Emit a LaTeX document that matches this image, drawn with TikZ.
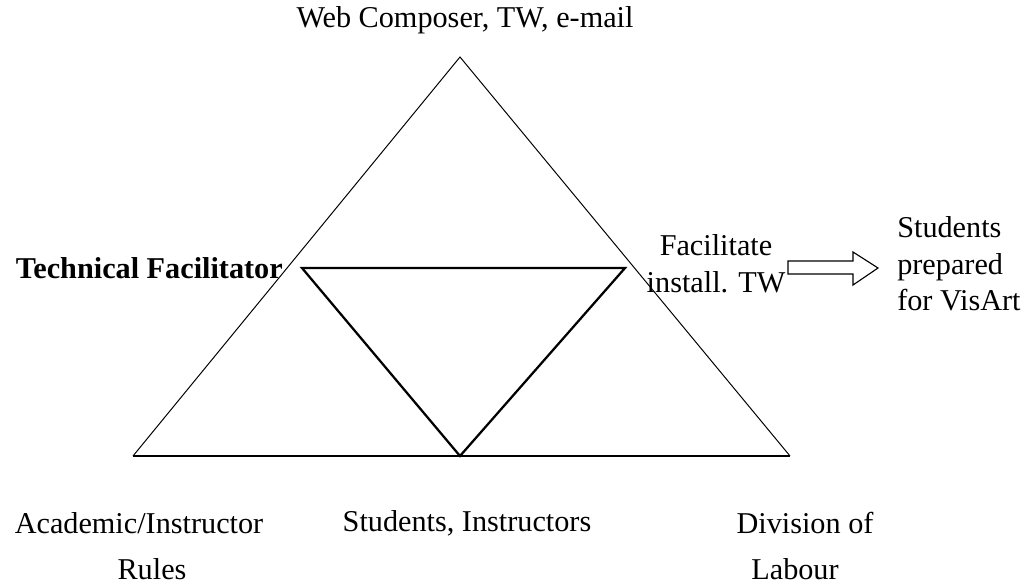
\documentclass[tikz,border=0pt]{standalone}
\usepackage{fontspec}
\setmainfont{Liberation Serif}
\usetikzlibrary{positioning,calc}
\tikzset{
  lbl/.style={font=\fontsize{21.5}{26}\selectfont,inner sep=0pt,align=center},
  thinside/.style={line width=0.7pt},
  thickside/.style={line width=1.6pt}
}

\begin{document}
\begin{tikzpicture}[x=0.025cm,y=-0.025cm]
        \useasboundingbox(0,0)rectangle(1024,585);
        % outer triangle
        \coordinate(top)at(460,57);
        \coordinate(bl)at(133,456);
        \coordinate(br)at(790,456);
        % inner triangle
        \coordinate(ml)at(302,268);
        \coordinate(mr)at(625,268);
        \coordinate(mb)at(460,456);
        \draw[thinside](bl)--(top)--(br);
        \draw[line width=1.2pt](bl)--(br);
        \draw[thickside,line join=miter](ml)--(mr)--(mb)--cycle;
        \node[lbl](tool)at(465,20){Web Composer, TW, e-mail};
        \node[lbl,anchor=east,font=\fontsize{21.5}{26}\selectfont\bfseries](tech)at(283,268){Technical Facilitator};
        \node[lbl](fac)at(716,264){Facilitate\\install. TW};
        \node[lbl,anchor=west,align=left](out)at(897,264){Students\\prepared\\for VisArt};
        \node[lbl](acad)at(139,523){Academic/Instructor};
        \node[lbl](rules)at(152,569){Rules};
        \node[lbl](subj)at(467,523){Students, Instructors};
        \node[lbl](div)at(805,523){Division of};
        \node[lbl](lab)at(795,569){Labour};
        % hollow arrow
        \draw[line width=0.8pt,line join=miter]
          (788,261)--(853,261)--(853,252)--(878,268)--(853,285)--(853,274)--(788,274)--cycle;
      \end{tikzpicture}
\end{document}
